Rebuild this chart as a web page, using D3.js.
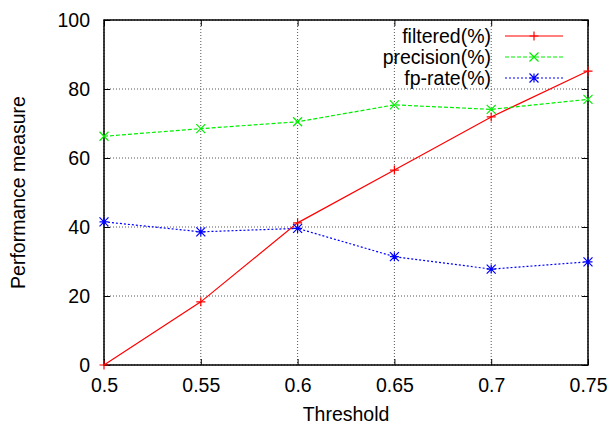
<!DOCTYPE html>
<html>
<head>
<meta charset="utf-8">
<script src="https://cdn.jsdelivr.net/npm/d3@7"></script>
<style>
  body { margin: 0; background: #fff; }
  svg { font-family: "Liberation Sans", Arial, sans-serif; }
</style>
</head>
<body>
<svg id="chart" width="615" height="426"></svg>
<script>
let thresholds = [0.5, 0.55, 0.6, 0.65, 0.7, 0.75];
let filtered = [0, 18.3, 41.2, 56.5, 71.9, 85.2];
let precision = [66.3, 68.5, 70.5, 75.4, 74.1, 77.0];
let fpRate = [41.5, 38.6, 39.6, 31.4, 27.8, 29.9];
let xTicks = [0.5, 0.55, 0.6, 0.65, 0.7, 0.75];
let yTicks = [0, 20, 40, 60, 80, 100];

let series = [
  {name: 'filtered(%)', values: filtered, color: '#ff0000', dash: null, marker: 'plus'},
  {name: 'precision(%)', values: precision, color: '#00ee00', dash: '4,2', marker: 'cross'},
  {name: 'fp-rate(%)', values: fpRate, color: '#0000ff', dash: '2,2', marker: 'star'}
];

let FONT = '19.5px';

let margin = {top: 20, right: 27, bottom: 61, left: 104};
let width = 615 - margin.left - margin.right,
    height = 426 - margin.top - margin.bottom;

let svg = d3.select('#chart');
let g = svg.append('g').attr('transform', `translate(${margin.left},${margin.top})`);

let sx = d3.scaleLinear().domain([0.5, 0.75]).range([0, width]);
let sy = d3.scaleLinear().domain([0, 100]).range([height, 0]);

// grid
g.append('g').selectAll('line').data(xTicks).enter().append('line')
  .attr('x1', d => sx(d)).attr('x2', d => sx(d))
  .attr('y1', 0).attr('y2', height)
  .attr('stroke', '#555').attr('stroke-width', 1).attr('stroke-dasharray', '1,2');
g.append('g').selectAll('line').data(yTicks).enter().append('line')
  .attr('x1', 0).attr('x2', width)
  .attr('y1', d => sy(d)).attr('y2', d => sy(d))
  .attr('stroke', '#555').attr('stroke-width', 1).attr('stroke-dasharray', '1,2');

// axes (ticks pointing inward, mirrored)
let xAxis = d3.axisBottom(sx).tickValues(xTicks).tickSize(-6).tickPadding(13).tickFormat(d => String(d));
let yAxis = d3.axisLeft(sy).tickValues(yTicks).tickSize(-6).tickPadding(14);

g.append('g').attr('class', 'x axis').attr('transform', `translate(0,${height})`).call(xAxis);
g.append('g').attr('class', 'y axis').call(yAxis);
g.append('g').attr('transform', 'translate(0,0)')
  .call(d3.axisTop(sx).tickValues(xTicks).tickSize(-6).tickFormat(''));
g.append('g').attr('transform', `translate(${width},0)`)
  .call(d3.axisRight(sy).tickValues(yTicks).tickSize(-6).tickFormat(''));

g.selectAll('.domain').remove();
g.selectAll('.tick line').attr('stroke', '#000');
g.selectAll('.tick text').attr('fill', '#000').style('font-size', FONT);

g.append('rect')
  .attr('x', 0).attr('y', 0).attr('width', width).attr('height', height)
  .attr('fill', 'none').attr('stroke', '#000').attr('stroke-width', 1.5);

// labels
svg.append('text')
  .attr('x', margin.left + width / 2).attr('y', 421)
  .attr('text-anchor', 'middle').style('font-size', FONT)
  .text('Threshold');
svg.append('text')
  .attr('transform', `translate(25,${margin.top + height / 2}) rotate(-90)`)
  .attr('text-anchor', 'middle').style('font-size', FONT)
  .text('Performance measure');

function drawMarker(sel, type, color) {
  let s = 4.5;
  let p = '';
  if (type === 'plus' || type === 'star') p += `M${-s},0H${s}M0,${-s}V${s}`;
  if (type === 'cross' || type === 'star') p += `M${-s},${-s}L${s},${s}M${-s},${s}L${s},${-s}`;
  sel.append('path').attr('d', p).attr('stroke', color).attr('stroke-width', 1.2).attr('fill', 'none');
}

let line = d3.line().x((d, i) => sx(thresholds[i])).y(d => sy(d));

series.forEach(s => {
  g.append('path')
    .datum(s.values)
    .attr('d', line)
    .attr('fill', 'none')
    .attr('stroke', s.color)
    .attr('stroke-width', 1.2)
    .attr('stroke-dasharray', s.dash);
  s.values.forEach((v, i) => {
    let m = g.append('g').attr('transform', `translate(${sx(thresholds[i])},${sy(v)})`);
    drawMarker(m, s.marker, s.color);
  });
});

// legend
let legend = svg.append('g');
series.forEach((s, i) => {
  let y = 36 + i * 21;
  legend.append('text')
    .attr('x', 491).attr('y', y).attr('dy', '0.35em')
    .attr('text-anchor', 'end').style('font-size', FONT)
    .text(s.name);
  legend.append('line')
    .attr('x1', 505).attr('x2', 563).attr('y1', y).attr('y2', y)
    .attr('stroke', s.color).attr('stroke-width', 1.2).attr('stroke-dasharray', s.dash);
  let m = legend.append('g').attr('transform', `translate(534,${y})`);
  drawMarker(m, s.marker, s.color);
});
</script>
</body>
</html>
